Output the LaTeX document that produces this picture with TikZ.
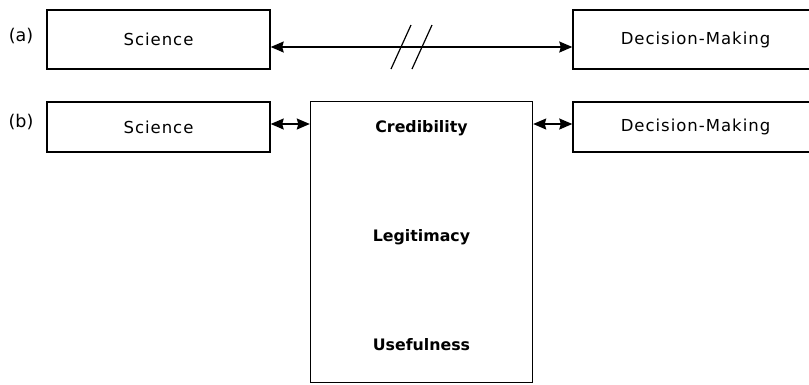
\documentclass[tikz,border=0pt]{standalone}
\usepackage{fontspec}
\setmainfont{DejaVu Sans}
\newfontfamily\spacedfont[LetterSpace=6]{DejaVu Sans}
\usetikzlibrary{arrows.meta,calc}
\begin{document}
\begin{tikzpicture}[x=1pt,y=-1pt,
  boxa/.style={draw,line width=1.4pt,inner sep=0pt,font=\spacedfont\fontsize{16.5}{18}\selectfont},
  lbl/.style={inner sep=0pt,font=\fontsize{17.5}{18}\selectfont},
  bold/.style={inner sep=0pt,font=\fontsize{15.8}{18}\selectfont\bfseries},
  arr/.style={line width=1.5pt,{Stealth[length=13pt,width=11pt,inset=1.5pt]}-{Stealth[length=13pt,width=11pt,inset=1.5pt]}},
  slash/.style={line width=1.2pt}]
\useasboundingbox (0,0) rectangle (809,384);
\clip (0,0) rectangle (809,384);
% labels
\node[lbl] (la) at (21,36) {(a)};
\node[lbl] (lb) at (21,122) {(b)};
% row (a)
\node[boxa,minimum width=223pt,minimum height=59pt] (sa) at (158.5,39.5) {Science};
\node[boxa,minimum width=245pt,minimum height=59pt] (da) at (695.5,39.5) {Decision-Making};
\coordinate (pa) at ([yshift=-7.5pt]sa.east);
\draw[arr] (pa) -- (pa -| da.west);
\coordinate (s1a) at (411,25); \coordinate (s1b) at (391,69);
\coordinate (s2a) at (432,25); \coordinate (s2b) at (412,69);
\draw[slash] (s1a) -- (s1b);
\draw[slash] (s2a) -- (s2b);
% row (b)
\node[boxa,minimum width=223pt,minimum height=50pt] (sb) at (158.5,127) {Science};
\node[boxa,minimum width=245pt,minimum height=50pt] (db) at (695.5,127) {Decision-Making};
\node[draw,line width=1.4pt,minimum width=222pt,minimum height=281pt,inner sep=0pt] (mid) at (421.5,242) {};
\coordinate (pb) at ([yshift=3pt]sb.east);
\coordinate (pc) at ([yshift=3pt]db.west);
\draw[arr] (pb) -- (pb -| mid.west);
\draw[arr] (pc -| mid.east) -- (pc);
\node[bold] (cred) at (421.5,128) {Credibility};
\node[bold] (legit) at (421.5,237) {Legitimacy};
\node[bold] (use) at (421.5,345) {Usefulness};
\end{tikzpicture}
\end{document}
